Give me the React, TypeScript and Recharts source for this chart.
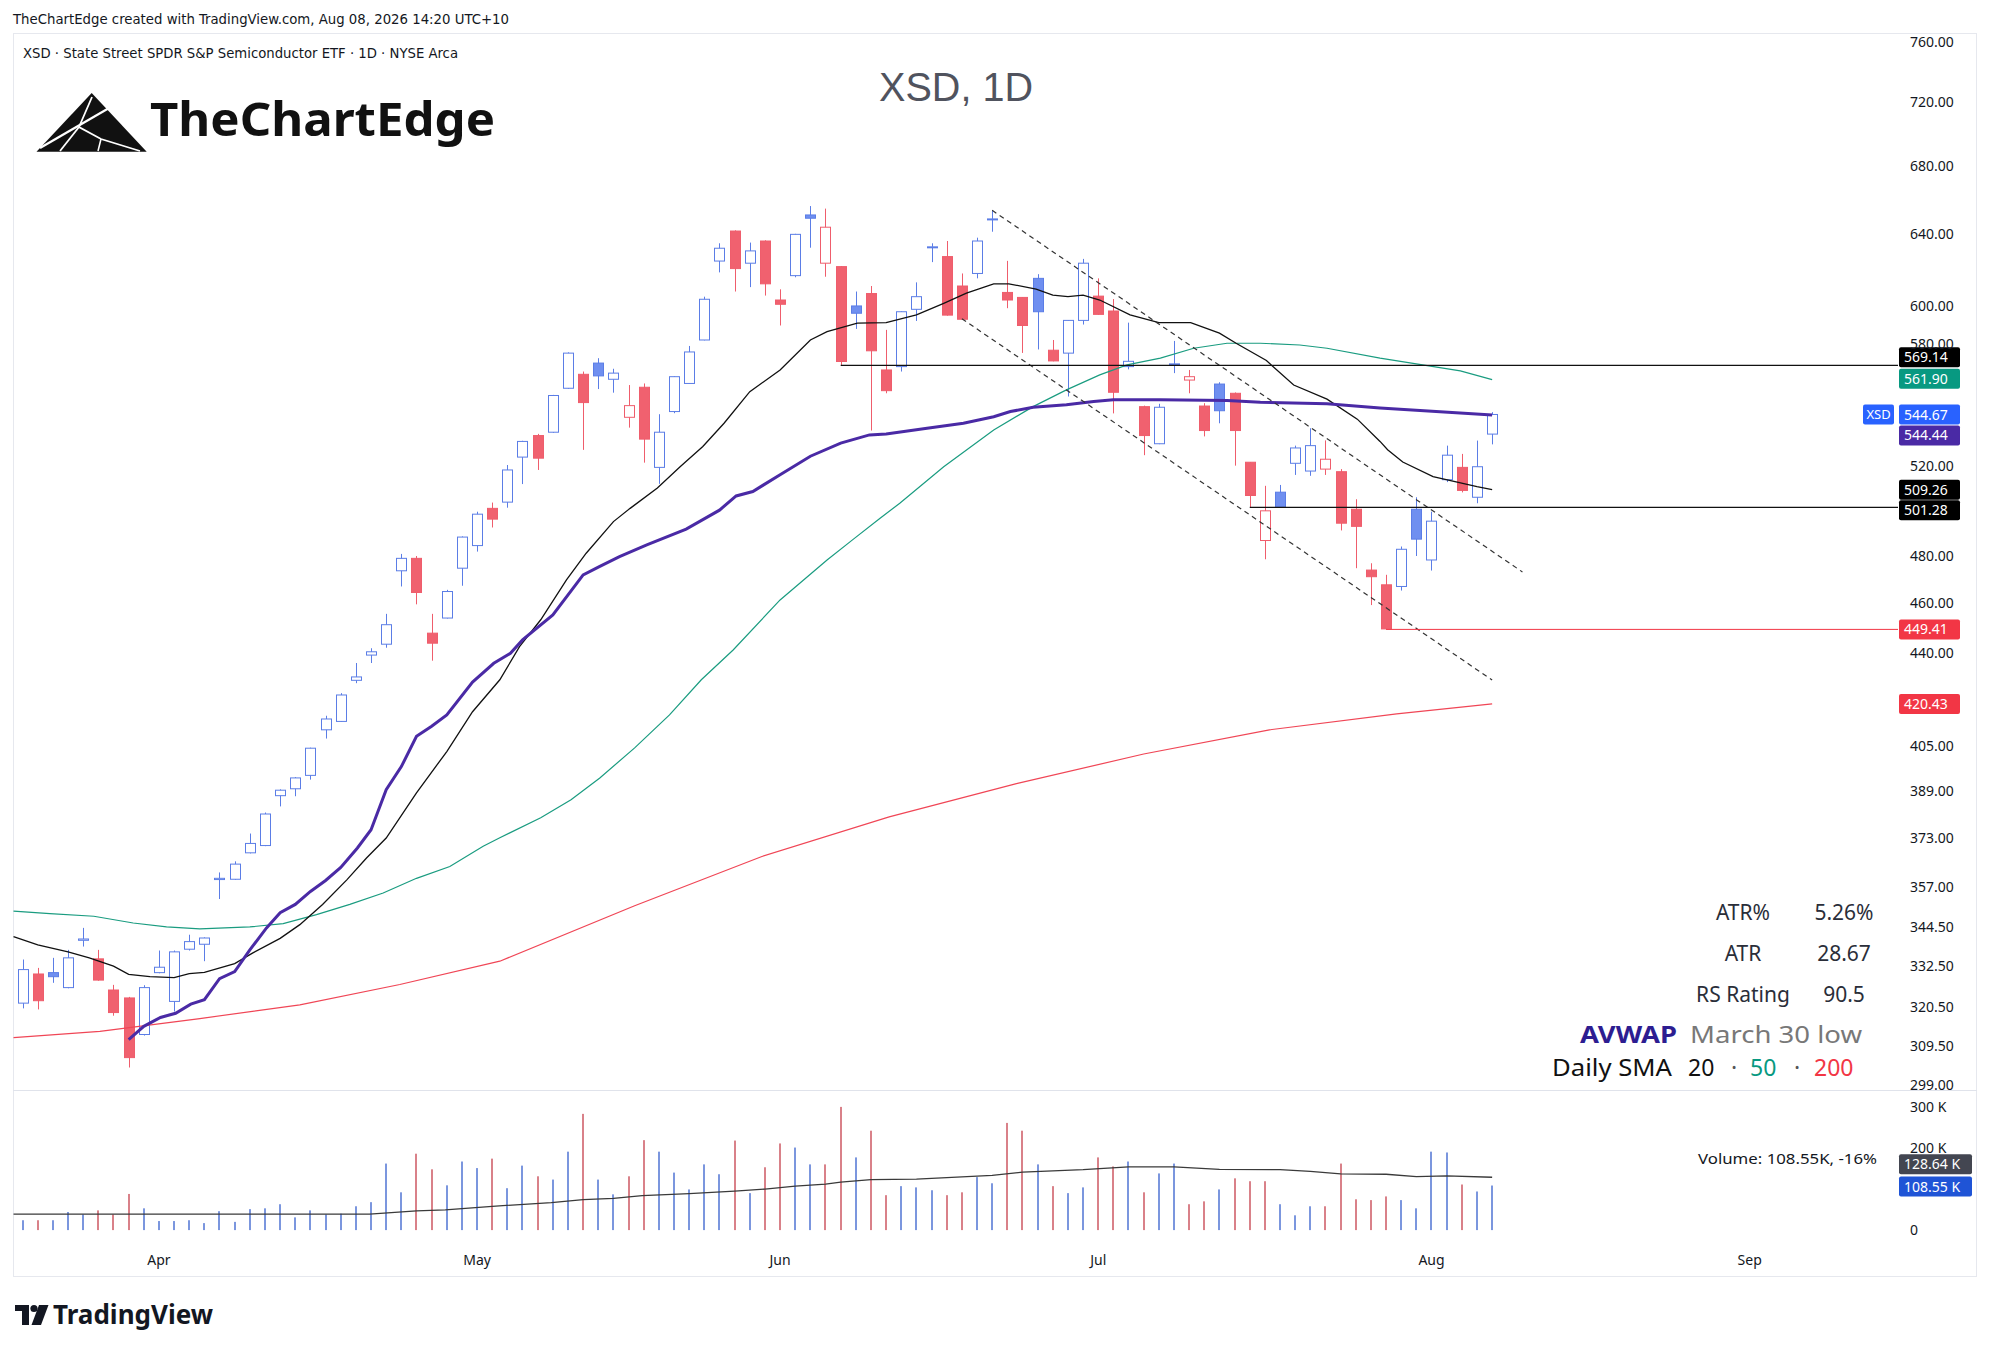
import React from 'react';
import { ComposedChart, Bar, Line, XAxis, YAxis, ReferenceLine } from 'recharts';

const FONT = '"Noto Sans", "DejaVu Sans", Arial, sans-serif';

// ---- daily bars (index 0 = Mar 19, 2026 ... index 97 = Aug 7, 2026) ----
const opens = [321.7,330.2,330.6,326.2,340.3,334.7,325.5,323.2,312.8,330.6,
322.2,337.6,339.1,359.3,359.4,368.0,370.4,387.3,389.7,394.4,
410.8,413.9,429.4,439.2,443.5,473.6,478.9,447.9,454.0,474.7,
484.4,500.8,503.6,524.3,534.5,536.1,557.6,564.6,570.3,562.1,
543.3,558.1,519.5,546.1,560.0,582.2,624.8,641.8,623.6,636.1,
603.4,616.7,651.1,623.6,621.7,600.2,606.9,566.8,568.5,598.4,
632.3,627.3,611.0,617.9,648.4,607.5,604.8,615.2,576.9,575.4,
592.5,605.5,597.5,568.5,548.5,530.6,569.5,561.7,548.8,559.7,
555.1,521.9,486.6,508.1,521.4,517.8,518.7,517.5,500.4,473.9,
467.7,467.0,500.4,478.2,513.8,519.5,505.8,535.2];

const highs = [334.5,332.0,335.0,337.4,344.1,337.4,327.0,323.5,326.9,337.2,
337.2,342.0,341.2,361.6,365.2,374.4,381.5,389.5,393.8,404.3,
416.0,424.5,436.1,441.9,455.7,480.8,479.9,455.7,465.6,488.4,
499.3,503.4,520.6,532.0,535.3,554.3,575.8,566.0,572.8,567.4,
559.2,560.0,544.8,563.6,579.1,605.2,634.8,642.2,635.2,636.5,
609.2,640.2,656.3,654.8,622.0,608.0,611.0,587.5,597.3,613.0,
634.8,636.1,617.9,638.0,653.8,624.9,605.0,617.5,582.2,592.7,
626.0,615.2,603.9,591.3,549.0,549.9,581.7,566.8,550.2,560.6,
555.5,522.0,511.0,511.4,529.7,538.0,532.2,518.7,504.9,476.8,
471.9,484.0,505.8,499.3,529.7,525.8,532.1,545.8];

const lows = [320.2,319.9,327.6,326.0,338.4,328.2,318.1,303.7,312.5,330.4,
319.3,337.2,334.0,353.1,359.2,367.8,370.2,383.6,387.1,392.9,
407.6,413.7,428.3,436.1,442.1,467.0,459.6,437.0,453.8,467.3,
481.8,492.3,501.1,511.8,518.3,535.8,557.3,527.7,557.2,555.4,
538.3,521.7,511.9,545.3,559.8,582.0,618.5,608.0,610.4,605.8,
589.8,615.8,632.3,616.1,569.0,588.0,536.9,555.1,566.0,592.2,
624.2,595.0,592.9,615.2,641.4,599.0,575.5,577.3,571.2,553.5,
590.3,595.5,545.2,567.1,525.2,530.4,565.2,555.1,534.1,540.4,
520.3,501.3,478.5,501.0,516.0,515.6,516.0,491.0,474.7,459.3,
449.41,465.3,479.9,473.7,512.7,508.0,503.1,530.3];

const closes = [331.5,322.4,329.4,335.0,340.7,328.4,319.0,306.4,326.2,332.2,
336.8,339.9,341.0,359.7,364.3,371.1,381.0,389.2,393.5,404.1,
414.8,423.8,430.7,440.5,451.3,478.9,464.5,443.9,464.9,488.1,
498.2,496.0,518.3,531.7,523.8,554.0,575.4,550.5,563.8,565.2,
549.0,532.8,536.1,563.4,576.0,603.8,632.0,620.6,630.5,612.2,
601.1,639.9,649.2,644.0,571.1,596.3,576.6,556.4,597.1,605.2,
632.8,595.3,593.1,636.1,648.8,603.4,589.8,597.1,571.4,592.5,
623.6,595.7,555.6,571.2,534.5,548.2,569.9,563.4,536.9,546.5,
536.9,506.6,499.7,501.3,528.6,529.7,523.3,494.2,492.8,471.1,
449.6,482.8,487.2,495.1,525.2,508.9,519.8,544.67];

// volume in thousands
const volumes = [24,24,24,44,38,48,38,88,53,22,
22,24,17,46,20,51,53,63,31,48,
38,40,58,68,162,92,186,148,109,167,
151,174,102,157,131,123,191,283,123,87,
131,219,191,140,99,160,136,218,90,153,
211,201,160,160,300,177,242,85,107,104,
97,85,92,129,114,261,242,160,107,90,
104,177,155,167,92,138,162,63,70,99,
126,119,119,63,36,58,58,162,75,73,
82,73,53,191,189,111,94,108.55];

// ---- indicator lines: [bar index, value] ----
const sma20Pts = [[-0.6,341.4],[1,338.9],[3,336.8],[4.4,335.0],[6,332.5],[7,330.1],[8.4,329.4],[10,329.1],[11,330.3],[12,330.7],
[14,333.3],[15.2,336.5],[17,340.9],[18.3,345.1],[19.8,351.4],[21.4,359.2],[22.7,366.3],[24,372.9],[26,388.3],[28,402.9],
[29.7,417.5],[31.5,429.6],[32.8,442.5],[34.2,453.3],[35.9,469.8],[37.2,481.1],[39,494.9],[40.1,500.8],[41.9,510.0],[43.4,519.8],
[44.9,529.3],[46.3,540.4],[48,555.9],[50,566.8],[52,582.2],[53.1,586.6],[55.1,591.0],[57,591.3],[59,595.4],[60.8,601.6],
[62.3,607.1],[64.1,612.2],[65.1,612.2],[66.9,609.3],[68,606.0],[69,605.2],[70,606.0],[71.1,603.4],[73.1,595.4],[75,591.3],
[77.1,591.3],[79,585.8],[80.1,580.5],[82.1,571.6],[83.9,559.2],[86.1,552.2],[88.1,542.4],[89.6,531.7],[90.1,527.8],[91.1,522.0],
[93.1,515.2],[96,510.6],[97,509.26]];

const avwapPts = [[7,311.4],[8,315.1],[9.1,317.6],[10.1,318.8],[11.1,321.4],[12,322.7],[13,328.8],[14,330.9],[15,337.4],[16.1,344.1],
[17,348.8],[18,351.4],[19,355.5],[20,359.0],[21,363.2],[22.1,369.6],[23,375.7],[24,389.4],[25,397.5],[26,408.4],
[27,412.1],[28,416.3],[29.7,428.7],[31.1,436.0],[32.2,439.9],[33,445.2],[35,455.3],[37,471.9],[38.1,475.5],[39.4,479.6],
[41.2,484.7],[43.8,491.6],[46,500.0],[47.1,506.4],[48.2,508.4],[50,516.1],[52,524.7],[54,530.9],[55.9,534.8],[57,535.3],
[59.7,538.0],[62.1,540.4],[64.1,543.6],[65.2,546.1],[66.7,548.2],[68.9,549.4],[70.7,551.0],[72,551.9],[75.1,551.9],[79.5,551.5],
[81.7,550.7],[86.1,549.9],[89.6,547.8],[97,544.44]];

const sma50Pts = [[-0.6,349.3],[1.8,348.5],[4.7,347.7],[7.3,345.6],[9.5,344.4],[11.7,343.8],[15,344.4],[17.2,345.4],[19.4,348.2],[21.6,351.4],
[23.8,355.0],[26,359.7],[28.2,363.5],[30.4,370.2],[31.5,373.0],[34.2,379.7],[36.2,385.9],[38.1,393.5],[40.4,404.2],[42.7,416.3],
[44.8,429.6],[46.9,441.2],[50,461.4],[53.1,478.2],[54.8,487.0],[56.6,496.4],[57.9,503.1],[60.8,519.8],[64.1,537.2],[66.7,548.5],
[68.9,556.8],[71.1,564.3],[72.9,569.4],[75.1,572.8],[77.3,577.9],[79.5,580.5],[81.7,580.5],[84.3,579.6],[86.1,577.9],[89.6,572.8],
[94.9,566.3],[97,561.9]];

const sma200Pts = [[-0.6,311.9],[5.1,313.7],[11.7,317.3],[18.3,321.2],[24.9,327.1],[31.5,334.0],[40.4,351.0],[48.8,366.8],[57.2,380.0],
[65.6,391.5],[74,402.0],[82.3,410.8],[90.7,416.7],[97,420.43]];

const volMaPts = [[-0.6,39],[22.9,39],[26,47],[27.9,49],[31,58],[34.9,67],[37,74],[39,77],[40.9,84],[44,89],
[47,95],[49,100],[51,107],[53,112],[54,117],[56,123],[59,124],[64,133],[66,141],[70,147],
[73,154],[76,154],[79,148],[83,147],[85,143],[87,137],[90,136],[92,130],[94,132],[97,128.64]];

// drawn channel (dashed) and horizontal levels
const channelUpper = [[64,653.8],[99,473.1]];
const channelLower = [[62,593.4],[97,429.5]];
const levelBlack1 = { from: 54, price: 569.14 };
const levelBlack2 = { from: 81, price: 501.28 };
const levelRed = { from: 90, price: 449.41 };

// axis ticks
const priceTicks = [299, 309.5, 320.5, 332.5, 344.5, 357, 373, 389, 405, 440, 460, 480, 520, 580, 600, 640, 680, 720, 760];
const volTicks = [0, 200, 300];
const monthTickIdx = [9, 30, 50, 71, 93, 114];
const monthLabels = ['Apr', 'May', 'Jun', 'Jul', 'Aug', 'Sep'];

// ---- layout constants ----
const X_DOMAIN: [number, number] = [-0.634, 123.79];
const PRICE_DOMAIN: [number, number] = [297.65, 765.5];
const VOL_DOMAIN: [number, number] = [-36.3, 338.7];
const BODY_W = 10;
const PAD = 12;

const BLUE = '#5b7de6';
const BLUE_FILL = '#6f8ff0';
const RED = '#ef5d6c';
const RED_FILL = '#f0616f';
const VOL_BLUE = '#7b96de';
const VOL_RED = '#d98189';

const candles = opens.map((o, i) => ({
  i, o, h: highs[i], l: lows[i], c: closes[i],
  up: i === 0 ? true : closes[i] >= closes[i - 1],
}));
const volRows = volumes.map((v, i) => ({ i, v, up: candles[i].up }));
const toRows = (pts: number[][]) => pts.map(([i, v]) => ({ i, v }));

function Candle(props: any) {
  const { x, y, width, height, payload } = props;
  if (!payload || height == null || isNaN(y)) return null;
  const { o, h, l, c, up } = payload;
  const lnH = Math.log(h), lnL = Math.log(l);
  const span = lnH - lnL;
  const yOf = (p: number) => (span > 0 ? y + (height * (lnH - Math.log(p))) / span : y);
  const color = up ? BLUE : RED;
  const fill = c > o ? '#ffffff' : up ? BLUE_FILL : RED_FILL;
  const center = Math.round(x + width / 2);
  const left = center - BODY_W / 2 + 0.5;
  const cx = center + 0.5;
  const top = yOf(Math.max(o, c));
  const bot = yOf(Math.min(o, c));
  const bh = Math.max(bot - top, 1);
  return (
    <g>
      <line x1={cx} x2={cx} y1={y} y2={y + height} stroke={color} strokeWidth={1} />
      <rect x={left} y={top} width={BODY_W} height={bh} fill={fill} stroke={color} strokeWidth={1} />
    </g>
  );
}

function VolBar(props: any) {
  const { x, y, width, height, payload } = props;
  if (!payload || isNaN(y)) return null;
  const cx = Math.round(x + width / 2);
  return <rect x={cx - 1} y={y} width={2} height={Math.max(height, 0)} fill={payload.up ? VOL_BLUE : VOL_RED} />;
}

function tag(text: string, bg: string, dy: number, w = 61, extra?: { text: string; bg: string }) {
  return (props: any) => {
    const vb = props.viewBox || {};
    const right = (vb.x || 0) + (vb.width || 0);
    const cy = (vb.y || 0) + dy;
    return (
      <g>
        {extra ? (
          <g>
            <rect x={right - 35} y={cy - 10} width={31} height={20} rx={2} fill={extra.bg} />
            <text x={right - 19.5} y={cy} dy="0.36em" textAnchor="middle" fill="#fff" fontSize={13} fontFamily={FONT}>{extra.text}</text>
          </g>
        ) : null}
        <rect x={right + 1} y={cy - 10} width={w} height={20} rx={2} fill={bg} />
        <text x={right + 6} y={cy} dy="0.36em" fill="#fff" fontSize={14} fontFamily={FONT}>{text}</text>
      </g>
    );
  };
}

function TopLogo() {
  return (
    <g>
      <polygon points="91.7,93 36.5,151.7 146.7,151.7" fill="#111" />
      <polyline points="40,148 116,104" stroke="#fff" strokeWidth={2.2} fill="none" />
      <polyline points="92,97 79,127 101,139 140,151" stroke="#fff" strokeWidth={1.8} fill="none" />
      <polyline points="79,127 60,151" stroke="#fff" strokeWidth={1.8} fill="none" />
      <polyline points="101,139 98,151" stroke="#fff" strokeWidth={1.5} fill="none" />
    </g>
  );
}

function TVLogo() {
  return (
    <g fill="#131722">
      <rect x={15} y={1305} width={14} height={6} />
      <rect x={22} y={1305} width={7} height={20} />
      <circle cx={34} cy={1308.5} r={3.6} />
      <polygon points="39,1305 48.5,1305 41,1325 31.5,1325" />
    </g>
  );
}

export default function App() {
  return (
    <div style={{ position: 'absolute', left: 0, top: 0, width: 1991, height: 1353, background: '#fff', fontFamily: FONT, overflow: 'hidden' }}>
      <svg width={1991} height={1353} style={{ position: 'absolute', left: 0, top: 0 }}>
        <rect x={13.5} y={33.5} width={1963} height={1243} fill="none" stroke="#e6e8ee" strokeWidth={1} />
        <line x1={13} x2={1977} y1={1090.5} y2={1090.5} stroke="#e0e3eb" strokeWidth={1} />
      </svg>

      <div style={{ position: 'absolute', left: 13, top: 34 - PAD }}>
        <ComposedChart width={1964} height={1056 + PAD} data={candles} margin={{ top: PAD, right: 0, bottom: 0, left: 0 }} style={{ overflow: 'visible' }}>
          <XAxis dataKey="i" type="number" domain={X_DOMAIN} allowDataOverflow hide />
          <YAxis
            orientation="right"
            type="number"
            scale="log"
            domain={PRICE_DOMAIN}
            allowDataOverflow
            ticks={priceTicks}
            interval={0}
            tickFormatter={(v: number) => v.toFixed(2)}
            width={79}
            axisLine={false}
            tickLine={false}
            tickSize={0}
            tickMargin={12}
            tick={{ fontSize: 14, fill: '#131722', fontFamily: FONT }}
          />
          <Bar dataKey={(d: any) => [d.l, d.h]} barSize={11} shape={<Candle />} isAnimationActive={false} />
          <Line data={toRows(sma200Pts)} dataKey="v" type="linear" stroke="#f04656" strokeWidth={1.2} dot={false} activeDot={false} isAnimationActive={false} />
          <Line data={toRows(sma50Pts)} dataKey="v" type="linear" stroke="#1a9c80" strokeWidth={1.2} dot={false} activeDot={false} isAnimationActive={false} />
          <Line data={toRows(sma20Pts)} dataKey="v" type="linear" stroke="#111111" strokeWidth={1.3} dot={false} activeDot={false} isAnimationActive={false} />
          <Line data={toRows(avwapPts)} dataKey="v" type="linear" stroke="#4a2aa5" strokeWidth={3} dot={false} activeDot={false} isAnimationActive={false} />

          <ReferenceLine segment={[{ x: channelUpper[0][0], y: channelUpper[0][1] }, { x: channelUpper[1][0], y: channelUpper[1][1] }]} stroke="#333" strokeWidth={1.2} strokeDasharray="5 4" />
          <ReferenceLine segment={[{ x: channelLower[0][0], y: channelLower[0][1] }, { x: channelLower[1][0], y: channelLower[1][1] }]} stroke="#333" strokeWidth={1.2} strokeDasharray="5 4" />
          <ReferenceLine segment={[{ x: levelBlack1.from, y: levelBlack1.price }, { x: X_DOMAIN[1], y: levelBlack1.price }]} stroke="#111" strokeWidth={1.2} />
          <ReferenceLine segment={[{ x: levelBlack2.from, y: levelBlack2.price }, { x: X_DOMAIN[1], y: levelBlack2.price }]} stroke="#111" strokeWidth={1.2} />
          <ReferenceLine segment={[{ x: levelRed.from, y: levelRed.price }, { x: X_DOMAIN[1], y: levelRed.price }]} stroke="#f23645" strokeWidth={1} />

          <ReferenceLine y={569.14} stroke="none" label={tag('569.14', '#000000', -8)} />
          <ReferenceLine y={561.9} stroke="none" label={tag('561.90', '#089981', -1)} />
          <ReferenceLine y={544.67} stroke="none" label={tag('544.67', '#2962ff', 0, 61, { text: 'XSD', bg: '#2962ff' })} />
          <ReferenceLine y={544.44} stroke="none" label={tag('544.44', '#4a2aa5', 20.5)} />
          <ReferenceLine y={509.26} stroke="none" label={tag('509.26', '#000000', 0)} />
          <ReferenceLine y={501.28} stroke="none" label={tag('501.28', '#000000', 3)} />
          <ReferenceLine y={449.41} stroke="none" label={tag('449.41', '#f23645', 0)} />
          <ReferenceLine y={420.43} stroke="none" label={tag('420.43', '#f23645', 0)} />
        </ComposedChart>
      </div>

      <div style={{ position: 'absolute', left: 13, top: 1091 - PAD }}>
        <ComposedChart width={1964} height={186 + PAD} data={volRows} margin={{ top: PAD, right: 0, bottom: 0, left: 0 }} style={{ overflow: 'visible' }}>
          <XAxis
            dataKey="i"
            type="number"
            domain={X_DOMAIN}
            allowDataOverflow
            ticks={monthTickIdx}
            interval={0}
            tickFormatter={(v: number) => monthLabels[monthTickIdx.indexOf(v)] || ''}
            height={32}
            axisLine={false}
            tickLine={false}
            tickSize={0}
            tickMargin={10}
            tick={{ fontSize: 14, fill: '#131722', fontFamily: FONT }}
          />
          <YAxis
            orientation="right"
            type="number"
            domain={VOL_DOMAIN}
            allowDataOverflow
            ticks={volTicks}
            interval={0}
            tickFormatter={(v: number) => (v === 0 ? '0' : `${v} K`)}
            width={79}
            axisLine={false}
            tickLine={false}
            tickSize={0}
            tickMargin={12}
            tick={{ fontSize: 14, fill: '#131722', fontFamily: FONT }}
          />
          <Bar dataKey="v" barSize={2} shape={<VolBar />} isAnimationActive={false} />
          <Line data={toRows(volMaPts)} dataKey="v" type="linear" stroke="#3a3a3a" strokeWidth={1.3} dot={false} activeDot={false} isAnimationActive={false} />
          <ReferenceLine y={128.64} stroke="none" label={tag('128.64 K', '#434651', -13, 73)} />
          <ReferenceLine y={108.55} stroke="none" label={tag('108.55 K', '#1f54d6', 1, 73)} />
        </ComposedChart>
      </div>

      <svg width={1991} height={1353} style={{ position: 'absolute', left: 0, top: 0, pointerEvents: 'none' }}>
        <text x={13} y={24} fontSize={14.5} fill="#131722" fontFamily='"Liberation Sans Narrow", "DejaVu Sans Condensed", sans-serif' textLength={496} lengthAdjust="spacingAndGlyphs">
          TheChartEdge created with TradingView.com, Aug 08, 2026 14:20 UTC+10
        </text>
        <text x={23} y={58} fontSize={14} fill="#131722" fontFamily='"Liberation Sans Narrow", "DejaVu Sans Condensed", sans-serif' textLength={435} lengthAdjust="spacingAndGlyphs">
          XSD · State Street SPDR S&amp;P Semiconductor ETF · 1D · NYSE Arca
        </text>
        <TopLogo />
        <text x={150} y={136} fontSize={47} fontWeight={700} fill="#111" fontFamily={FONT} textLength={345} lengthAdjust="spacingAndGlyphs">TheChartEdge</text>
        <text x={956} y={101} fontSize={40} fill="#50535e" textAnchor="middle" fontFamily='"Liberation Sans", Arial, sans-serif' textLength={154} lengthAdjust="spacingAndGlyphs">XSD, 1D</text>

        <g fontFamily={FONT} fontSize={21} fill="#2a2e39">
          <text x={1743} y={920} textAnchor="middle">ATR%</text>
          <text x={1844} y={920} textAnchor="middle">5.26%</text>
          <text x={1743} y={961} textAnchor="middle">ATR</text>
          <text x={1844} y={961} textAnchor="middle">28.67</text>
          <text x={1743} y={1002} textAnchor="middle">RS Rating</text>
          <text x={1844} y={1002} textAnchor="middle">90.5</text>
        </g>
        <text x={1580} y={1043} fontFamily={FONT} fontSize={23} fontWeight={700} fill="#2d1d91" textLength={97} lengthAdjust="spacingAndGlyphs">AVWAP</text>
        <text x={1690} y={1043} fontFamily={FONT} fontSize={23} fill="#787878" textLength={172} lengthAdjust="spacingAndGlyphs">March 30 low</text>
        <g fontFamily={FONT} fontSize={23}>
          <text x={1552} y={1076} fill="#111" textLength={120} lengthAdjust="spacingAndGlyphs">Daily SMA</text>
          <text x={1688} y={1076} fill="#111">20</text>
          <text x={1734} y={1076} fill="#555" textAnchor="middle">·</text>
          <text x={1750} y={1076} fill="#089981">50</text>
          <text x={1797} y={1076} fill="#555" textAnchor="middle">·</text>
          <text x={1814} y={1076} fill="#f23645">200</text>
        </g>
        <text x={1698} y={1164} fontFamily={FONT} fontSize={15} fill="#131722" textLength={179} lengthAdjust="spacingAndGlyphs">Volume: 108.55K, -16%</text>

        <TVLogo />
        <text x={53} y={1324} fontFamily={FONT} fontSize={26} fontWeight={700} fill="#131722" textLength={160} lengthAdjust="spacingAndGlyphs">TradingView</text>
      </svg>
    </div>
  );
}
